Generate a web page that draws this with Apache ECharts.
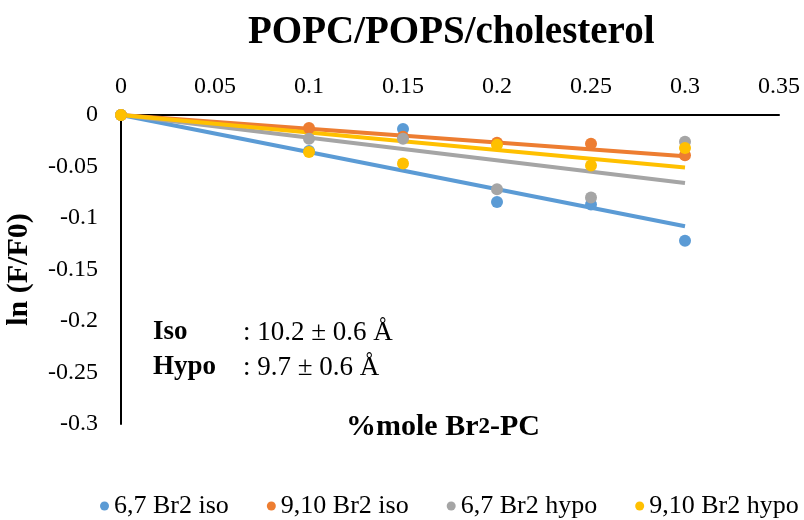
<!DOCTYPE html>
<html>
<head>
<meta charset="utf-8">
<script src="https://cdn.jsdelivr.net/npm/echarts@6/dist/echarts.min.js"></script>
<style>html,body{margin:0;padding:0;background:#fff}#c{width:804px;height:520px}</style>
</head>
<body>
<div id="c"></div>
<script>
var xValues = [0, 0.1, 0.15, 0.2, 0.25, 0.3];
var seriesNames = ['6,7 Br2 iso', '9,10 Br2 iso', '6,7 Br2 hypo', '9,10 Br2 hypo'];
var iso67 = [0, -0.035, -0.0136, -0.0845, -0.087, -0.122];
var iso910 = [0, -0.0126, -0.021, -0.027, -0.028, -0.039];
var hypo67 = [0, -0.023, -0.023, -0.072, -0.080, -0.026];
var hypo910 = [0, -0.036, -0.047, -0.029, -0.049, -0.032];
var trendX = [0, 0.3];
var trendIso67 = [0, -0.108];
var trendIso910 = [0, -0.040];
var trendHypo67 = [0, -0.066];
var trendHypo910 = [0, -0.051];
var colors = ['#5B9BD5', '#ED7D31', '#A5A5A5', '#FFC000'];

var font = '"Liberation Serif", "Times New Roman", serif';
var values = [iso67, iso910, hypo67, hypo910];
var trends = [trendIso67, trendIso910, trendHypo67, trendHypo910];

function pairs(xs, ys) { return xs.map(function (x, i) { return [x, ys[i]]; }); }

var series = [];
trends.forEach(function (t, i) {
  series.push({
    type: 'line', name: seriesNames[i] + ' trend', data: pairs(trendX, t),
    showSymbol: false, symbol: 'none', silent: true,
    lineStyle: { color: colors[i], width: 4 }, z: 2
  });
});
values.forEach(function (v, i) {
  series.push({
    type: 'scatter', name: seriesNames[i], data: pairs(xValues, v),
    symbol: 'circle', symbolSize: 12,
    itemStyle: { color: colors[i], opacity: 1 }, z: 3
  });
});

var chart = echarts.init(document.getElementById('c'), null, { renderer: 'canvas' });
chart.setOption({
  animation: false,
  backgroundColor: '#fff',
  title: {
    text: 'POPC/POPS/cholesterol', left: 243, top: 8,
    textStyle: { fontFamily: font, fontWeight: 'bold', fontSize: 39, color: '#000' }
  },
  legend: {
    data: seriesNames, bottom: -4, left: 95, width: 709,
    icon: 'circle', itemWidth: 9, itemHeight: 9, itemGap: 38,
    textStyle: { fontFamily: font, fontSize: 26, color: '#000' }
  },
  grid: { left: 121, right: 25, top: 115, bottom: 96, containLabel: false, outerBoundsMode: 'none' },
  xAxis: {
    type: 'value', position: 'top', min: 0, max: 0.35, interval: 0.05,
    axisLine: { lineStyle: { color: '#000', width: 2 } },
    axisTick: { show: false }, splitLine: { show: false },
    axisLabel: { fontFamily: font, fontSize: 24, color: '#000', margin: 16 }
  },
  yAxis: {
    type: 'value', min: -0.3, max: 0, interval: 0.05,
    axisLine: { show: true, lineStyle: { color: '#000', width: 2 } },
    axisTick: { show: false }, splitLine: { show: false },
    axisLabel: { fontFamily: font, fontSize: 24, color: '#000', margin: 23 },
    name: 'ln (F/F0)', nameLocation: 'middle', nameRotate: 90, nameGap: 87,
    nameTextStyle: { fontFamily: font, fontWeight: 'bold', fontSize: 30, color: '#000' }
  },
  graphic: [
    { type: 'text', left: 346, top: 412, style: {
      text: '{a|%mole Br}{b|2}{a|-PC}', fill: '#000',
      rich: { a: { fontFamily: font, fontWeight: 'bold', fontSize: 30 }, b: { fontFamily: font, fontWeight: 'bold', fontSize: 23 } }
    } },
    { type: 'text', left: 153, top: 319, style: { text: 'Iso', font: 'bold 27px ' + font, fill: '#000' } },
    { type: 'text', left: 243, top: 319, style: { text: ': 10.2 \u00b1 0.6 \u00c5', font: '27px ' + font, fill: '#000' } },
    { type: 'text', left: 153, top: 354, style: { text: 'Hypo', font: 'bold 27px ' + font, fill: '#000' } },
    { type: 'text', left: 243, top: 354, style: { text: ': 9.7 \u00b1 0.6 \u00c5', font: '27px ' + font, fill: '#000' } }
  ],
  series: series
});
</script>
</body>
</html>
